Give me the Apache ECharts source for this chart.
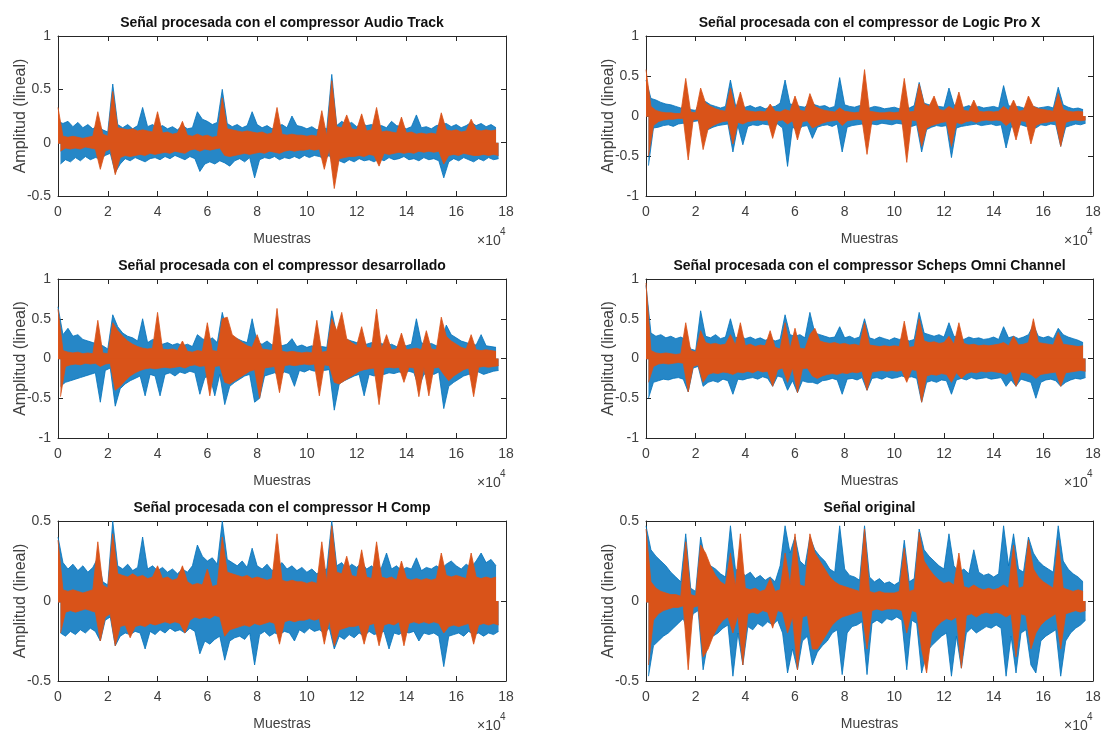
<!DOCTYPE html>
<html>
<head>
<meta charset="utf-8">
<title>Señales procesadas</title>
<script src="https://cdn.jsdelivr.net/npm/echarts@6/dist/echarts.min.js"></script>
<style>
  html, body { margin: 0; padding: 0; background: #fff; }
  #chart { width: 1104px; height: 733px; }
</style>
</head>
<body>
<div id="chart"></div>
<script>
// envelope of each waveform, one value every SAMPLE_STEP samples (0 .. 176000)
const SAMPLE_STEP = 2000

const plotTitles = [
  'Señal procesada con el compressor Audio Track',
  'Señal procesada con el compressor de Logic Pro X',
  'Señal procesada con el compressor desarrollado',
  'Señal procesada con el compressor Scheps Omni Channel',
  'Señal procesada con el compressor H Comp',
  'Señal original'
]
const yLimits = [[-0.5, 1], [-1, 1], [-1, 1], [-1, 1], [-0.5, 0.5], [-0.5, 0.5]]
const xTickValues = [0, 2, 4, 6, 8, 10, 12, 14, 16, 18] // x10^4
const xLabel = 'Muestras'
const yLabel = 'Amplitud (lineal)'

// --- Audio Track ---
const p1BlueHi = [0.2,0.18,0.2,0.15,0.19,0.14,0.17,0.13,0.16,0.12,
  0.1,0.55,0.17,0.14,0.17,0.13,0.16,0.33,0.15,0.17,
  0.14,0.16,0.13,0.15,0.12,0.16,0.13,0.14,0.29,0.22,
  0.2,0.17,0.19,0.5,0.18,0.15,0.17,0.14,0.16,0.29,
  0.17,0.14,0.16,0.13,0.15,0.17,0.14,0.25,0.16,0.15,
  0.13,0.15,0.12,0.14,0.13,0.64,0.16,0.2,0.17,0.19,
  0.15,0.18,0.16,0.17,0.15,0.16,0.14,0.2,0.16,0.15,
  0.13,0.15,0.26,0.14,0.15,0.13,0.16,0.17,0.18,0.15,
  0.17,0.14,0.16,0.19,0.16,0.18,0.15,0.17,0.14]
const p1BlueLo = [-0.2,-0.16,-0.18,-0.14,-0.17,-0.13,-0.16,-0.14,-0.15,-0.12,
  -0.1,-0.28,-0.2,-0.15,-0.17,-0.14,-0.16,-0.18,-0.15,-0.14,
  -0.16,-0.13,-0.15,-0.12,-0.14,-0.16,-0.13,-0.15,-0.27,-0.2,
  -0.18,-0.2,-0.17,-0.19,-0.22,-0.17,-0.15,-0.18,-0.14,-0.33,
  -0.16,-0.14,-0.15,-0.13,-0.16,-0.14,-0.15,-0.13,-0.15,-0.12,
  -0.14,-0.12,-0.13,-0.15,-0.12,-0.2,-0.17,-0.19,-0.16,-0.18,
  -0.15,-0.17,-0.16,-0.18,-0.15,-0.17,-0.14,-0.16,-0.15,-0.13,
  -0.16,-0.15,-0.17,-0.14,-0.16,-0.15,-0.17,-0.33,-0.18,-0.15,
  -0.17,-0.14,-0.16,-0.18,-0.15,-0.17,-0.14,-0.16,-0.15]
const p1OrangeHi = [0.33,0.06,0.05,0.06,0.05,0.04,0.05,0.06,0.29,0.08,
  0.06,0.48,0.14,0.13,0.12,0.13,0.11,0.12,0.11,0.1,
  0.29,0.09,0.1,0.08,0.09,0.2,0.07,0.06,0.08,0.06,
  0.07,0.05,0.06,0.42,0.13,0.12,0.11,0.1,0.11,0.1,
  0.09,0.1,0.08,0.09,0.33,0.08,0.07,0.08,0.07,0.07,
  0.06,0.07,0.06,0.3,0.06,0.58,0.15,0.14,0.26,0.13,
  0.12,0.27,0.11,0.12,0.33,0.1,0.11,0.1,0.09,0.24,
  0.09,0.1,0.08,0.09,0.08,0.09,0.08,0.28,0.12,0.11,
  0.12,0.1,0.11,0.22,0.12,0.11,0.12,0.11,0.12]
const p1OrangeLo = [-0.08,-0.05,-0.06,-0.05,-0.06,-0.04,-0.05,-0.06,-0.25,-0.08,
  -0.06,-0.3,-0.14,-0.12,-0.13,-0.12,-0.11,-0.12,-0.1,-0.11,
  -0.1,-0.09,-0.1,-0.08,-0.09,-0.1,-0.07,-0.06,-0.08,-0.06,
  -0.07,-0.06,-0.05,-0.12,-0.13,-0.12,-0.11,-0.1,-0.11,-0.1,
  -0.09,-0.1,-0.08,-0.09,-0.1,-0.08,-0.07,-0.08,-0.07,-0.07,
  -0.06,-0.07,-0.06,-0.25,-0.06,-0.43,-0.15,-0.14,-0.13,-0.13,
  -0.12,-0.13,-0.11,-0.12,-0.22,-0.1,-0.11,-0.1,-0.09,-0.1,
  -0.09,-0.1,-0.08,-0.09,-0.08,-0.09,-0.08,-0.2,-0.12,-0.11,
  -0.12,-0.1,-0.11,-0.12,-0.12,-0.11,-0.12,-0.11,-0.12]

// --- Logic Pro X ---
const p2BlueHi = [0.45,0.22,0.2,0.17,0.15,0.14,0.12,0.1,0.12,0.08,
  0.07,0.2,0.18,0.14,0.12,0.1,0.12,0.45,0.14,0.12,
  0.11,0.13,0.1,0.12,0.09,0.11,0.12,0.16,0.45,0.15,
  0.14,0.12,0.11,0.18,0.14,0.12,0.13,0.1,0.12,0.48,
  0.14,0.12,0.11,0.13,0.12,0.1,0.12,0.11,0.09,0.1,
  0.11,0.09,0.12,0.1,0.13,0.42,0.16,0.14,0.13,0.12,
  0.11,0.35,0.14,0.12,0.11,0.13,0.1,0.12,0.1,0.11,
  0.12,0.1,0.38,0.13,0.11,0.12,0.1,0.11,0.12,0.1,
  0.11,0.12,0.1,0.36,0.14,0.11,0.09,0.1,0.08]
const p2BlueLo = [-0.62,-0.15,-0.14,-0.12,-0.11,-0.13,-0.1,-0.09,-0.12,-0.07,
  -0.06,-0.2,-0.17,-0.14,-0.12,-0.11,-0.1,-0.45,-0.12,-0.36,
  -0.13,-0.11,-0.12,-0.1,-0.11,-0.12,-0.1,-0.15,-0.63,-0.14,
  -0.18,-0.13,-0.12,-0.28,-0.14,-0.12,-0.11,-0.13,-0.1,-0.45,
  -0.14,-0.12,-0.11,-0.1,-0.13,-0.1,-0.11,-0.09,-0.1,-0.11,
  -0.09,-0.1,-0.12,-0.13,-0.11,-0.45,-0.17,-0.14,-0.12,-0.13,
  -0.12,-0.52,-0.15,-0.13,-0.12,-0.11,-0.1,-0.12,-0.11,-0.1,
  -0.12,-0.11,-0.4,-0.14,-0.12,-0.11,-0.13,-0.12,-0.15,-0.11,
  -0.12,-0.1,-0.11,-0.38,-0.14,-0.12,-0.1,-0.11,-0.09]
const p2OrangeHi = [0.58,0.12,0.07,0.05,0.04,0.04,0.03,0.03,0.47,0.05,
  0.04,0.35,0.16,0.12,0.09,0.07,0.06,0.35,0.08,0.3,
  0.07,0.06,0.05,0.06,0.05,0.15,0.06,0.05,0.08,0.06,
  0.25,0.07,0.06,0.28,0.12,0.09,0.07,0.06,0.05,0.1,
  0.06,0.05,0.04,0.05,0.58,0.06,0.05,0.04,0.04,0.05,
  0.04,0.05,0.47,0.05,0.06,0.4,0.15,0.12,0.25,0.08,
  0.07,0.12,0.08,0.3,0.07,0.06,0.2,0.06,0.05,0.06,
  0.05,0.06,0.12,0.07,0.2,0.06,0.07,0.25,0.12,0.09,
  0.08,0.07,0.06,0.28,0.08,0.06,0.05,0.06,0.05]
const p2OrangeLo = [-0.5,-0.12,-0.07,-0.05,-0.04,-0.04,-0.03,-0.03,-0.55,-0.05,
  -0.04,-0.42,-0.16,-0.12,-0.09,-0.07,-0.06,-0.35,-0.08,-0.1,
  -0.07,-0.06,-0.05,-0.06,-0.05,-0.28,-0.06,-0.05,-0.1,-0.06,
  -0.3,-0.07,-0.06,-0.15,-0.12,-0.09,-0.07,-0.06,-0.05,-0.12,
  -0.06,-0.05,-0.04,-0.05,-0.48,-0.06,-0.05,-0.04,-0.04,-0.05,
  -0.04,-0.05,-0.58,-0.05,-0.06,-0.38,-0.15,-0.12,-0.1,-0.08,
  -0.07,-0.38,-0.08,-0.1,-0.07,-0.06,-0.08,-0.06,-0.05,-0.06,
  -0.05,-0.06,-0.12,-0.07,-0.3,-0.06,-0.07,-0.35,-0.12,-0.09,
  -0.08,-0.07,-0.06,-0.38,-0.08,-0.06,-0.05,-0.06,-0.05]

// --- desarrollado ---
const p3BlueHi = [0.65,0.3,0.38,0.28,0.3,0.24,0.22,0.2,0.18,0.16,
  0.12,0.55,0.4,0.32,0.28,0.26,0.22,0.5,0.2,0.24,
  0.22,0.18,0.2,0.17,0.19,0.16,0.18,0.15,0.3,0.25,
  0.22,0.26,0.2,0.58,0.32,0.28,0.25,0.22,0.2,0.5,
  0.2,0.18,0.22,0.17,0.19,0.16,0.18,0.25,0.15,0.17,
  0.14,0.16,0.13,0.15,0.14,0.6,0.3,0.27,0.24,0.22,
  0.2,0.22,0.18,0.2,0.17,0.19,0.16,0.18,0.15,0.17,
  0.16,0.18,0.5,0.2,0.17,0.19,0.16,0.18,0.42,0.3,
  0.26,0.22,0.2,0.18,0.17,0.3,0.16,0.15,0.14]
const p3BlueLo = [-0.35,-0.3,-0.28,-0.26,-0.24,-0.22,-0.2,-0.18,-0.55,-0.15,
  -0.12,-0.6,-0.38,-0.32,-0.28,-0.25,-0.22,-0.47,-0.2,-0.22,
  -0.47,-0.2,-0.18,-0.22,-0.17,-0.19,-0.16,-0.18,-0.45,-0.24,
  -0.22,-0.47,-0.2,-0.58,-0.35,-0.3,-0.26,-0.22,-0.2,-0.55,
  -0.5,-0.22,-0.2,-0.18,-0.2,-0.17,-0.19,-0.35,-0.15,-0.17,
  -0.14,-0.16,-0.13,-0.15,-0.14,-0.65,-0.32,-0.28,-0.25,-0.22,
  -0.2,-0.47,-0.2,-0.22,-0.19,-0.2,-0.18,-0.19,-0.17,-0.18,
  -0.16,-0.18,-0.36,-0.2,-0.18,-0.2,-0.17,-0.63,-0.35,-0.3,
  -0.26,-0.22,-0.2,-0.19,-0.17,-0.2,-0.18,-0.16,-0.15]
const p3OrangeHi = [0.62,0.1,0.08,0.07,0.08,0.06,0.07,0.06,0.48,0.07,
  0.06,0.45,0.35,0.28,0.22,0.18,0.15,0.13,0.12,0.13,
  0.58,0.12,0.11,0.12,0.1,0.22,0.09,0.08,0.1,0.09,
  0.45,0.1,0.09,0.5,0.52,0.3,0.25,0.2,0.16,0.14,
  0.3,0.12,0.11,0.1,0.63,0.09,0.08,0.09,0.08,0.07,
  0.08,0.07,0.48,0.08,0.09,0.5,0.35,0.58,0.25,0.2,
  0.16,0.4,0.14,0.13,0.62,0.12,0.3,0.11,0.12,0.32,
  0.11,0.12,0.13,0.11,0.35,0.12,0.11,0.52,0.28,0.22,
  0.18,0.14,0.12,0.3,0.11,0.1,0.11,0.1,0.09]
const p3OrangeLo = [-0.48,-0.1,-0.08,-0.07,-0.08,-0.06,-0.07,-0.06,-0.1,-0.07,
  -0.06,-0.4,-0.35,-0.28,-0.22,-0.18,-0.15,-0.13,-0.12,-0.13,
  -0.12,-0.11,-0.12,-0.11,-0.1,-0.12,-0.09,-0.08,-0.1,-0.09,
  -0.47,-0.1,-0.09,-0.3,-0.32,-0.28,-0.24,-0.2,-0.16,-0.14,
  -0.5,-0.12,-0.11,-0.1,-0.43,-0.09,-0.08,-0.09,-0.08,-0.07,
  -0.08,-0.07,-0.47,-0.08,-0.09,-0.3,-0.32,-0.28,-0.24,-0.2,
  -0.16,-0.14,-0.13,-0.12,-0.58,-0.12,-0.11,-0.12,-0.11,-0.3,
  -0.11,-0.12,-0.48,-0.11,-0.47,-0.12,-0.11,-0.2,-0.28,-0.22,
  -0.18,-0.14,-0.12,-0.48,-0.11,-0.1,-0.11,-0.1,-0.09]

// --- Scheps Omni Channel ---
const p4BlueHi = [0.92,0.32,0.28,0.3,0.26,0.28,0.25,0.27,0.24,0.12,
  0.1,0.6,0.28,0.26,0.3,0.25,0.27,0.5,0.26,0.28,
  0.25,0.27,0.24,0.26,0.23,0.25,0.22,0.24,0.55,0.3,
  0.28,0.3,0.26,0.58,0.32,0.3,0.28,0.26,0.27,0.4,
  0.26,0.28,0.25,0.27,0.5,0.26,0.24,0.27,0.25,0.23,
  0.26,0.24,0.25,0.22,0.24,0.58,0.32,0.3,0.28,0.3,
  0.27,0.45,0.28,0.26,0.24,0.27,0.25,0.26,0.24,0.25,
  0.27,0.24,0.4,0.26,0.28,0.25,0.27,0.3,0.42,0.28,
  0.26,0.28,0.25,0.38,0.3,0.27,0.25,0.23,0.2]
const p4BlueLo = [-0.5,-0.3,-0.28,-0.26,-0.27,-0.25,-0.24,-0.26,-0.42,-0.12,
  -0.1,-0.35,-0.3,-0.28,-0.3,-0.26,-0.28,-0.45,-0.26,-0.27,
  -0.25,-0.24,-0.26,-0.23,-0.25,-0.35,-0.22,-0.24,-0.4,-0.28,
  -0.43,-0.28,-0.3,-0.3,-0.32,-0.28,-0.27,-0.25,-0.27,-0.45,
  -0.26,-0.25,-0.27,-0.24,-0.4,-0.25,-0.24,-0.26,-0.23,-0.25,
  -0.24,-0.22,-0.24,-0.23,-0.25,-0.55,-0.3,-0.28,-0.3,-0.27,
  -0.28,-0.45,-0.27,-0.25,-0.27,-0.24,-0.26,-0.25,-0.24,-0.26,
  -0.25,-0.24,-0.35,-0.27,-0.35,-0.26,-0.28,-0.3,-0.5,-0.3,
  -0.27,-0.26,-0.28,-0.35,-0.3,-0.27,-0.25,-0.26,-0.24]
const p4OrangeHi = [0.95,0.1,0.07,0.06,0.07,0.06,0.05,0.06,0.45,0.1,
  0.08,0.35,0.2,0.18,0.19,0.17,0.18,0.3,0.17,0.45,
  0.16,0.18,0.15,0.17,0.16,0.35,0.14,0.12,0.45,0.12,
  0.38,0.13,0.12,0.3,0.38,0.22,0.2,0.19,0.2,0.18,
  0.19,0.17,0.18,0.16,0.45,0.17,0.16,0.15,0.16,0.15,
  0.16,0.15,0.47,0.14,0.15,0.5,0.22,0.2,0.21,0.19,
  0.2,0.28,0.18,0.45,0.19,0.17,0.18,0.16,0.17,0.16,
  0.17,0.18,0.2,0.16,0.28,0.17,0.18,0.2,0.5,0.2,
  0.19,0.18,0.17,0.33,0.18,0.17,0.16,0.15,0.16]
const p4OrangeLo = [-0.3,-0.1,-0.07,-0.06,-0.07,-0.06,-0.05,-0.06,-0.42,-0.1,
  -0.08,-0.3,-0.2,-0.18,-0.19,-0.17,-0.18,-0.2,-0.17,-0.18,
  -0.16,-0.18,-0.15,-0.17,-0.16,-0.35,-0.14,-0.12,-0.3,-0.12,
  -0.43,-0.13,-0.12,-0.22,-0.25,-0.22,-0.2,-0.19,-0.2,-0.18,
  -0.19,-0.17,-0.18,-0.16,-0.4,-0.17,-0.16,-0.15,-0.16,-0.15,
  -0.16,-0.15,-0.3,-0.14,-0.15,-0.55,-0.22,-0.2,-0.21,-0.19,
  -0.2,-0.3,-0.18,-0.25,-0.19,-0.17,-0.18,-0.16,-0.17,-0.16,
  -0.17,-0.18,-0.2,-0.16,-0.35,-0.17,-0.18,-0.2,-0.25,-0.2,
  -0.19,-0.18,-0.17,-0.35,-0.18,-0.17,-0.16,-0.15,-0.16]

// --- H Comp ---
const p5BlueHi = [0.4,0.24,0.2,0.23,0.19,0.22,0.18,0.21,0.27,0.12,
  0.1,0.5,0.22,0.2,0.23,0.19,0.21,0.4,0.2,0.22,
  0.19,0.21,0.18,0.2,0.17,0.2,0.18,0.22,0.35,0.28,
  0.25,0.27,0.23,0.5,0.26,0.24,0.22,0.25,0.21,0.33,
  0.22,0.2,0.23,0.19,0.21,0.24,0.2,0.22,0.19,0.21,
  0.18,0.2,0.17,0.19,0.2,0.5,0.22,0.24,0.2,0.23,
  0.21,0.24,0.2,0.22,0.19,0.21,0.3,0.2,0.22,0.19,
  0.21,0.2,0.27,0.19,0.21,0.2,0.22,0.2,0.23,0.25,
  0.22,0.2,0.23,0.21,0.25,0.3,0.24,0.26,0.22]
const p5BlueLo = [-0.2,-0.22,-0.19,-0.21,-0.18,-0.2,-0.17,-0.19,-0.25,-0.12,
  -0.1,-0.28,-0.22,-0.2,-0.21,-0.19,-0.2,-0.3,-0.19,-0.21,
  -0.18,-0.2,-0.17,-0.19,-0.18,-0.2,-0.17,-0.19,-0.33,-0.25,
  -0.27,-0.24,-0.22,-0.37,-0.25,-0.23,-0.22,-0.24,-0.2,-0.4,
  -0.21,-0.19,-0.22,-0.2,-0.21,-0.19,-0.2,-0.25,-0.18,-0.2,
  -0.17,-0.19,-0.18,-0.2,-0.17,-0.3,-0.22,-0.24,-0.21,-0.23,
  -0.2,-0.22,-0.19,-0.21,-0.2,-0.19,-0.3,-0.2,-0.21,-0.19,
  -0.2,-0.19,-0.25,-0.2,-0.21,-0.2,-0.22,-0.41,-0.22,-0.21,
  -0.2,-0.22,-0.19,-0.21,-0.2,-0.22,-0.2,-0.21,-0.19]
const p5OrangeHi = [0.38,0.07,0.06,0.07,0.06,0.05,0.06,0.07,0.37,0.1,
  0.08,0.42,0.17,0.16,0.15,0.17,0.15,0.16,0.14,0.15,
  0.22,0.14,0.15,0.13,0.14,0.22,0.12,0.1,0.11,0.1,
  0.2,0.09,0.1,0.4,0.18,0.17,0.16,0.15,0.16,0.14,
  0.15,0.14,0.13,0.14,0.42,0.13,0.12,0.13,0.12,0.12,
  0.11,0.12,0.11,0.37,0.12,0.47,0.18,0.17,0.28,0.16,
  0.15,0.32,0.15,0.14,0.37,0.15,0.14,0.15,0.13,0.25,
  0.14,0.13,0.14,0.13,0.14,0.13,0.14,0.3,0.16,0.15,
  0.16,0.15,0.14,0.3,0.15,0.14,0.15,0.14,0.15]
const p5OrangeLo = [-0.2,-0.07,-0.06,-0.07,-0.06,-0.05,-0.06,-0.07,-0.25,-0.1,
  -0.08,-0.28,-0.16,-0.15,-0.23,-0.16,-0.15,-0.16,-0.14,-0.15,
  -0.14,-0.13,-0.14,-0.13,-0.14,-0.2,-0.12,-0.1,-0.11,-0.1,
  -0.11,-0.09,-0.1,-0.22,-0.18,-0.17,-0.16,-0.15,-0.16,-0.14,
  -0.15,-0.14,-0.13,-0.14,-0.27,-0.13,-0.12,-0.13,-0.12,-0.12,
  -0.11,-0.12,-0.11,-0.27,-0.12,-0.28,-0.18,-0.17,-0.16,-0.16,
  -0.15,-0.27,-0.15,-0.14,-0.28,-0.15,-0.14,-0.15,-0.13,-0.28,
  -0.14,-0.13,-0.14,-0.13,-0.14,-0.13,-0.14,-0.2,-0.16,-0.15,
  -0.16,-0.15,-0.14,-0.27,-0.15,-0.14,-0.15,-0.14,-0.15]

// --- original ---
const p6BlueHi = [0.47,0.32,0.28,0.25,0.22,0.18,0.15,0.12,0.42,0.08,
  0.06,0.4,0.25,0.22,0.2,0.17,0.15,0.47,0.2,0.18,
  0.16,0.18,0.14,0.16,0.13,0.15,0.12,0.22,0.47,0.3,
  0.4,0.25,0.22,0.4,0.32,0.28,0.25,0.2,0.18,0.47,
  0.2,0.16,0.15,0.13,0.47,0.15,0.12,0.14,0.11,0.12,
  0.1,0.12,0.38,0.12,0.14,0.45,0.32,0.28,0.25,0.22,
  0.2,0.42,0.22,0.18,0.2,0.17,0.32,0.18,0.16,0.17,
  0.15,0.17,0.47,0.22,0.42,0.2,0.18,0.4,0.3,0.25,
  0.22,0.2,0.18,0.47,0.25,0.2,0.17,0.15,0.12]
const p6BlueLo = [-0.47,-0.28,-0.25,-0.22,-0.2,-0.17,-0.14,-0.11,-0.2,-0.08,
  -0.06,-0.43,-0.25,-0.22,-0.2,-0.17,-0.15,-0.47,-0.2,-0.4,
  -0.16,-0.18,-0.14,-0.16,-0.13,-0.15,-0.12,-0.2,-0.45,-0.3,
  -0.43,-0.25,-0.22,-0.4,-0.32,-0.28,-0.25,-0.2,-0.18,-0.46,
  -0.2,-0.16,-0.15,-0.13,-0.46,-0.14,-0.12,-0.14,-0.11,-0.12,
  -0.1,-0.12,-0.43,-0.12,-0.14,-0.45,-0.32,-0.28,-0.25,-0.22,
  -0.2,-0.47,-0.22,-0.42,-0.2,-0.17,-0.2,-0.18,-0.16,-0.17,
  -0.15,-0.17,-0.47,-0.22,-0.45,-0.2,-0.18,-0.4,-0.45,-0.25,
  -0.22,-0.2,-0.18,-0.47,-0.25,-0.2,-0.17,-0.15,-0.12]
const p6OrangeHi = [0.45,0.12,0.08,0.06,0.05,0.04,0.04,0.03,0.37,0.04,
  0.03,0.35,0.3,0.22,0.16,0.12,0.1,0.3,0.09,0.42,
  0.08,0.07,0.08,0.06,0.07,0.14,0.06,0.07,0.3,0.1,
  0.42,0.1,0.09,0.42,0.3,0.25,0.2,0.15,0.12,0.1,
  0.09,0.08,0.07,0.06,0.45,0.06,0.05,0.06,0.05,0.05,
  0.05,0.06,0.33,0.06,0.07,0.43,0.25,0.2,0.16,0.13,
  0.11,0.12,0.1,0.3,0.09,0.08,0.1,0.08,0.07,0.08,
  0.07,0.08,0.1,0.08,0.35,0.08,0.09,0.38,0.2,0.15,
  0.12,0.1,0.08,0.38,0.08,0.07,0.06,0.07,0.06]
const p6OrangeLo = [-0.4,-0.12,-0.08,-0.06,-0.05,-0.04,-0.04,-0.03,-0.43,-0.04,
  -0.03,-0.35,-0.3,-0.22,-0.16,-0.12,-0.1,-0.2,-0.09,-0.4,
  -0.08,-0.07,-0.08,-0.06,-0.07,-0.17,-0.06,-0.07,-0.2,-0.1,
  -0.43,-0.1,-0.09,-0.3,-0.3,-0.25,-0.2,-0.15,-0.12,-0.1,
  -0.09,-0.08,-0.07,-0.06,-0.3,-0.06,-0.05,-0.06,-0.05,-0.05,
  -0.05,-0.06,-0.2,-0.06,-0.07,-0.3,-0.45,-0.2,-0.16,-0.13,
  -0.11,-0.12,-0.1,-0.42,-0.09,-0.08,-0.1,-0.08,-0.07,-0.08,
  -0.07,-0.08,-0.1,-0.08,-0.35,-0.08,-0.09,-0.3,-0.2,-0.15,
  -0.12,-0.1,-0.08,-0.3,-0.08,-0.07,-0.06,-0.07,-0.06]

const blueSets = [[p1BlueHi, p1BlueLo], [p2BlueHi, p2BlueLo], [p3BlueHi, p3BlueLo],
  [p4BlueHi, p4BlueLo], [p5BlueHi, p5BlueLo], [p6BlueHi, p6BlueLo]]
const orangeSets = [[p1OrangeHi, p1OrangeLo], [p2OrangeHi, p2OrangeLo], [p3OrangeHi, p3OrangeLo],
  [p4OrangeHi, p4OrangeLo], [p5OrangeHi, p5OrangeLo], [p6OrangeHi, p6OrangeLo]]

const FONT = '"Liberation Sans", Arial, Helvetica, sans-serif'
const AXIS_COLOR = '#262626'
const LABEL_COLOR = '#404040'
const BLUE = '#0072BD'
const ORANGE = '#D95319'

const gridLefts = [58, 646]
const gridWidths = [448, 447]
const gridTops = [36, 279, 521]
const gridHeights = [160, 159, 160]

const toPoints = (vals, offset) => vals.map((v, i) => [i * SAMPLE_STEP + offset, v])

// upper envelope filled down past 0, lower envelope filled up to 0 (small overlap hides the seam)
const waveSeries = (k, hi, lo, color, fillOpacity, z) => {
  const base = {
    type: 'line', xAxisIndex: 2 * k, yAxisIndex: 2 * k,
    showSymbol: false, symbol: 'none', silent: true, z
  }
  return [
    { ...base, data: toPoints(hi, 0), lineStyle: { width: 0.8, color },
      areaStyle: { color, opacity: fillOpacity, origin: -0.01 } },
    { ...base, data: toPoints(lo, SAMPLE_STEP / 2), lineStyle: { width: 0.8, color },
      areaStyle: { color, opacity: fillOpacity, origin: 0 } }
  ]
}

const grids = []
const xAxes = []
const yAxes = []
const series = []
const titles = []

plotTitles.forEach((text, k) => {
  const col = k % 2
  const row = Math.floor(k / 2)
  const left = gridLefts[col]
  const width = gridWidths[col]
  const top = gridTops[row]
  const height = gridHeights[row]
  grids.push({ left, top, width, height, containLabel: false })

  const [ymin, ymax] = yLimits[k]
  const xBase = {
    type: 'value', gridIndex: k, min: 0, max: 180000, interval: 20000,
    axisLine: { show: true, onZero: false, lineStyle: { color: AXIS_COLOR, width: 1 } },
    axisTick: { show: true, inside: true, length: 5, lineStyle: { color: AXIS_COLOR } },
    splitLine: { show: false }
  }
  xAxes.push({
    ...xBase, position: 'bottom',
    name: xLabel, nameLocation: 'middle', nameGap: 36,
    nameTextStyle: { fontFamily: FONT, fontSize: 14, color: LABEL_COLOR },
    axisLabel: {
      show: true, margin: 9, fontFamily: FONT, fontSize: 14, color: LABEL_COLOR,
      formatter: (v) => String(xTickValues[Math.round(v / 20000)])
    }
  })
  xAxes.push({ ...xBase, position: 'top', axisLabel: { show: false } })

  const yBase = {
    type: 'value', gridIndex: k, min: ymin, max: ymax, interval: 0.5,
    axisLine: { show: true, onZero: false, lineStyle: { color: AXIS_COLOR, width: 1 } },
    axisTick: { show: true, inside: true, length: 5, lineStyle: { color: AXIS_COLOR } },
    splitLine: { show: false }
  }
  yAxes.push({
    ...yBase, position: 'left',
    name: yLabel, nameLocation: 'middle', nameGap: 29, nameRotate: 90, nameMoveOverlap: false,
    nameTextStyle: { fontFamily: FONT, fontSize: 16, color: LABEL_COLOR },
    axisLabel: { show: true, margin: 7, fontFamily: FONT, fontSize: 14, color: LABEL_COLOR }
  })
  yAxes.push({ ...yBase, position: 'right', axisLabel: { show: false } })

  const [bh, bl] = blueSets[k]
  const [oh, ol] = orangeSets[k]
  series.push(...waveSeries(k, bh, bl, BLUE, 0.85, 2))
  series.push(...waveSeries(k, oh, ol, ORANGE, 1, 3))

  titles.push({
    text, left: left + width / 2, top: top - 20, textAlign: 'center', padding: 0,
    textStyle: { fontFamily: FONT, fontSize: 14, fontWeight: 'bold', color: '#111' }
  })
  titles.push({
    text: '×10', left: left + width - 29, top: top + height + 38, padding: 0,
    textStyle: { fontFamily: FONT, fontSize: 14, fontWeight: 'normal', color: LABEL_COLOR }
  })
  titles.push({
    text: '4', left: left + width - 6, top: top + height + 31, padding: 0,
    textStyle: { fontFamily: FONT, fontSize: 10, fontWeight: 'normal', color: LABEL_COLOR }
  })
})

const chart = echarts.init(document.getElementById('chart'), null, { renderer: 'canvas' })
chart.setOption({
  backgroundColor: '#ffffff',
  animation: false,
  title: titles,
  grid: grids,
  xAxis: xAxes,
  yAxis: yAxes,
  series
})
</script>
</body>
</html>
